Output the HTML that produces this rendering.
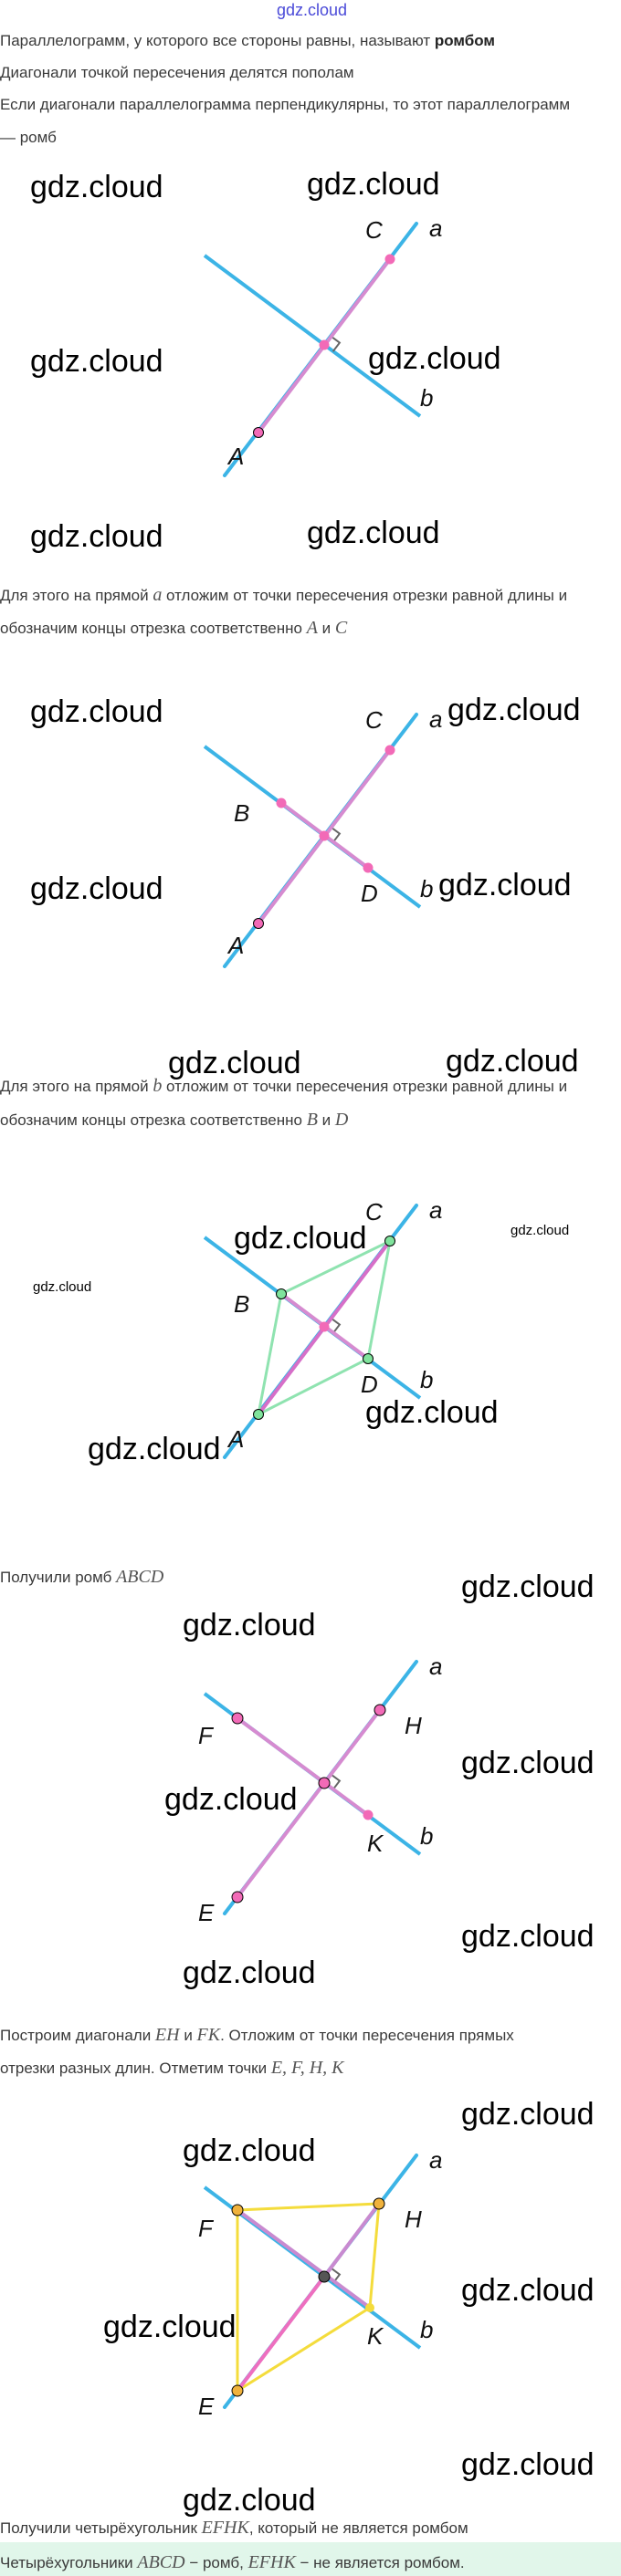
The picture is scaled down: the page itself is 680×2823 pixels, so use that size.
<!DOCTYPE html>
<html><head><meta charset="utf-8"><style>
html,body{margin:0;padding:0;background:#fff;}
svg{display:block;}
.t{font-family:"Liberation Sans",sans-serif;font-size:17px;fill:#3a3a3a;}
.m{font-family:"Liberation Serif",serif;font-style:italic;font-size:20px;fill:#555;}
.w{font-family:"Liberation Sans",sans-serif;font-size:34px;fill:#000;}
.ws{font-family:"Liberation Sans",sans-serif;font-size:15px;fill:#000;}
.l{font-family:"Liberation Sans",sans-serif;font-style:italic;font-size:26px;fill:#111;}
</style></head><body>
<svg width="680" height="2823" viewBox="0 0 680 2823" xmlns="http://www.w3.org/2000/svg">
<defs>
<g id="base">
<line x1="224" y1="280" x2="460" y2="456" stroke="#3cb4e6" stroke-width="4"/>
<line x1="456" y1="245" x2="246" y2="521" stroke="#3cb4e6" stroke-width="4" stroke-linecap="round"/>
<polyline points="362.3,368.4 371.9,375.6 364.6,385.2" fill="none" stroke="#666" stroke-width="2"/>
<text class="l" x="470" y="259">a</text>
<text class="l" x="460" y="445">b</text>
</g>
</defs>
<rect x="0" y="2786" width="680" height="37" fill="#e1f6ea"/>

<text x="303" y="17" font-family="Liberation Sans,sans-serif" font-size="18" fill="#4a4ad8">gdz.cloud</text>
<text class="t" x="0" y="50">Параллелограмм, у которого все стороны равны, называют <tspan font-weight="bold" fill="#222">ромбом</tspan></text>
<text class="t" x="0" y="85">Диагонали точкой пересечения делятся пополам</text>
<text class="t" x="0" y="120">Если диагонали параллелограмма перпендикулярны, то этот параллелограмм</text>
<text class="t" x="0" y="156">— ромб</text>

<!-- Diagram 1 -->
<g>
<use href="#base"/>
<line x1="283" y1="474" x2="427" y2="284" stroke="#d68bd0" stroke-width="4"/>
<circle cx="427" cy="284" r="5.5" fill="#f26ab7"/>
<circle cx="355" cy="378" r="5.5" fill="#f26ab7"/>
<circle cx="283" cy="474" r="5.5" fill="#f26ab7" stroke="#000" stroke-width="1"/>
<text class="l" x="400" y="261">C</text>
<text class="l" x="250" y="509">A</text>
</g>
<text class="w" x="33" y="216">gdz.cloud</text>
<text class="w" x="336" y="213">gdz.cloud</text>
<text class="w" x="33" y="407">gdz.cloud</text>
<text class="w" x="403" y="404">gdz.cloud</text>
<text class="w" x="33" y="599">gdz.cloud</text>
<text class="w" x="336" y="595">gdz.cloud</text>

<text class="t" x="0" y="658">Для этого на прямой <tspan class="m">a</tspan> отложим от точки пересечения отрезки равной длины и</text>
<text class="t" x="0" y="694">обозначим концы отрезка соответственно <tspan class="m">A</tspan> и <tspan class="m">C</tspan></text>

<!-- Diagram 2 -->
<g transform="translate(0,538)">
<use href="#base"/>
<line x1="283" y1="474" x2="427" y2="284" stroke="#d68bd0" stroke-width="4"/>
<line x1="308" y1="342" x2="403" y2="413" stroke="#d68bd0" stroke-width="4"/>
<circle cx="427" cy="284" r="5.5" fill="#f26ab7"/>
<circle cx="308" cy="342" r="5.5" fill="#f26ab7"/>
<circle cx="403" cy="413" r="5.5" fill="#f26ab7"/>
<circle cx="355" cy="378" r="5.5" fill="#f26ab7"/>
<circle cx="283" cy="474" r="5.5" fill="#f26ab7" stroke="#000" stroke-width="1"/>
<text class="l" x="400" y="260">C</text>
<text class="l" x="250" y="507">A</text>
<text class="l" x="256" y="362">B</text>
<text class="l" x="395" y="450">D</text>
</g>
<text class="w" x="33" y="791">gdz.cloud</text>
<text class="w" x="490" y="789">gdz.cloud</text>
<text class="w" x="33" y="985">gdz.cloud</text>
<text class="w" x="480" y="981">gdz.cloud</text>

<text class="w" x="184" y="1176">gdz.cloud</text>
<text class="w" x="488" y="1174">gdz.cloud</text>
<text class="t" x="0" y="1196">Для этого на прямой <tspan class="m">b</tspan> отложим от точки пересечения отрезки равной длины и</text>
<text class="t" x="0" y="1233">обозначим концы отрезка соответственно <tspan class="m">B</tspan> и <tspan class="m">D</tspan></text>

<!-- Diagram 3 -->
<g transform="translate(0,1076)">
<use href="#base"/>
<polygon points="283,474 308,342 427,284 403,413" fill="none" stroke="#8fe3b0" stroke-width="3"/>
<line x1="283" y1="474" x2="427" y2="284" stroke="#d66fc8" stroke-width="4"/>
<line x1="308" y1="342" x2="403" y2="413" stroke="#d68bd0" stroke-width="4"/>
<circle cx="355" cy="378" r="5.5" fill="#f26ab7"/>
<circle cx="427" cy="284" r="5.5" fill="#7fe39c" stroke="#000" stroke-width="1"/>
<circle cx="308" cy="342" r="5.5" fill="#7fe39c" stroke="#000" stroke-width="1"/>
<circle cx="403" cy="413" r="5.5" fill="#7fe39c" stroke="#000" stroke-width="1"/>
<circle cx="283" cy="474" r="5.5" fill="#7fe39c" stroke="#000" stroke-width="1"/>
<text class="l" x="400" y="261">C</text>
<text class="l" x="250" y="510">A</text>
<text class="l" x="256" y="362">B</text>
<text class="l" x="395" y="450">D</text>
</g>
<text class="ws" x="559" y="1353">gdz.cloud</text>
<text class="ws" x="36" y="1415">gdz.cloud</text>
<text class="w" x="256" y="1368">gdz.cloud</text>
<text class="w" x="400" y="1559">gdz.cloud</text>
<text class="w" x="96" y="1599">gdz.cloud</text>

<text class="t" x="0" y="1734">Получили ромб <tspan class="m">ABCD</tspan></text>
<text class="w" x="505" y="1750">gdz.cloud</text>

<!-- Diagram 4 -->
<g transform="translate(0,1576)">
<use href="#base"/>
<line x1="260" y1="503" x2="416" y2="298" stroke="#d68bd0" stroke-width="4"/>
<line x1="260" y1="307" x2="403" y2="413" stroke="#d68bd0" stroke-width="4"/>
<circle cx="416" cy="298" r="6" fill="#f26ab7" stroke="#000" stroke-width="1"/>
<circle cx="260" cy="307" r="6" fill="#f26ab7" stroke="#000" stroke-width="1"/>
<circle cx="403" cy="413" r="5.5" fill="#f26ab7"/>
<circle cx="260" cy="503" r="6" fill="#f26ab7" stroke="#000" stroke-width="1"/>
<circle cx="355" cy="378" r="6" fill="#f26ab7" stroke="#000" stroke-width="1"/>
<text class="l" x="217" y="335">F</text>
<text class="l" x="443" y="324">H</text>
<text class="l" x="402" y="453">K</text>
<text class="l" x="217" y="529">E</text>
</g>
<text class="w" x="200" y="1792">gdz.cloud</text>
<text class="w" x="505" y="1943">gdz.cloud</text>
<text class="w" x="180" y="1983">gdz.cloud</text>
<text class="w" x="505" y="2133">gdz.cloud</text>
<text class="w" x="200" y="2173">gdz.cloud</text>

<text class="t" x="0" y="2236">Построим диагонали <tspan class="m">EH</tspan> и <tspan class="m">FK</tspan>. Отложим от точки пересечения прямых</text>
<text class="t" x="0" y="2272">отрезки разных длин. Отметим точки <tspan class="m">E,  F,  H,  K</tspan></text>

<!-- Diagram 5 -->
<g transform="translate(0,2117)">
<use href="#base"/>
<polygon points="260,305 415,298 405,412 260,503" fill="none" stroke="#f4dc3c" stroke-width="3"/>
<line x1="260" y1="503" x2="355" y2="378" stroke="#ee6fbf" stroke-width="4"/>
<line x1="355" y1="378" x2="415" y2="298" stroke="#c98ad0" stroke-width="4"/>
<line x1="260" y1="305" x2="405" y2="412" stroke="#c98ad0" stroke-width="4"/>
<circle cx="415" cy="298" r="6" fill="#f0b23c" stroke="#000" stroke-width="1"/>
<circle cx="260" cy="305" r="6" fill="#f0b23c" stroke="#000" stroke-width="1"/>
<circle cx="405" cy="412" r="5" fill="#f4dc3c"/>
<circle cx="260" cy="503" r="6" fill="#f0b23c" stroke="#000" stroke-width="1"/>
<circle cx="355" cy="378" r="6" fill="#555" stroke="#000" stroke-width="1"/>
<text class="l" x="217" y="334">F</text>
<text class="l" x="443" y="324">H</text>
<text class="l" x="402" y="452">K</text>
<text class="l" x="217" y="529">E</text>
</g>
<text class="w" x="505" y="2328">gdz.cloud</text>
<text class="w" x="200" y="2368">gdz.cloud</text>
<text class="w" x="505" y="2521">gdz.cloud</text>
<text class="w" x="113" y="2561">gdz.cloud</text>
<text class="w" x="505" y="2712">gdz.cloud</text>
<text class="w" x="200" y="2751">gdz.cloud</text>

<text class="t" x="0" y="2776">Получили четырёхугольник <tspan class="m">EFHK</tspan>, который не является ромбом</text>
<text class="t" x="0" y="2814" font-size="18">Четырёхугольники <tspan class="m" font-size="22">ABCD</tspan> − ромб, <tspan class="m" font-size="22">EFHK</tspan> − не является ромбом.</text>
</svg>
</body></html>
